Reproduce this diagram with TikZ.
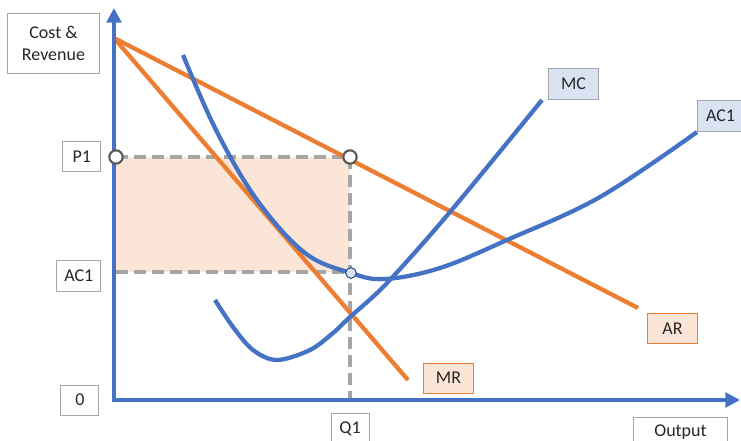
\documentclass[tikz,border=0pt]{standalone}
\usepackage{fontspec}
\setmainfont{Carlito}
\usepackage{tikz}
\usetikzlibrary{arrows.meta, positioning}
\definecolor{cBlue}{RGB}{68,114,196}
\definecolor{cOrange}{RGB}{237,125,49}
\definecolor{cPeach}{RGB}{251,229,214}
\definecolor{cIce}{RGB}{218,227,243}
\definecolor{cDash}{RGB}{165,165,165}
\definecolor{cRing}{RGB}{89,89,89}
\definecolor{cFrame}{RGB}{166,166,166}
\tikzset{
	lbl/.style      ={rectangle, draw=cFrame, line width=0.75pt, fill=white, minimum width=28.5pt, minimum height=22.5pt, inner sep=2pt, align=center, text=black!85},
	lblblue/.style  ={lbl, fill=cIce, minimum width=37.5pt, minimum height=23.25pt},
	lblorange/.style={lbl, draw=cOrange, fill=cPeach, minimum width=37.5pt},
	% curve styles
	curveblue/.style ={line width=3.2pt, cBlue},
	lineorange/.style={line width=3.2pt, cOrange},
	guide/.style     ={line width=3pt, cDash, dash pattern=on 9pt off 4.5pt},
	axis/.style      ={line width=3.2pt, cBlue, line join=miter, {Triangle[length=11pt,width=11pt]}-{Triangle[length=11pt,width=11pt]}},
	ring/.style      ={circle, draw=cRing, line width=1.6pt, fill=white, minimum size=10pt, inner sep=0pt},
	dot/.style       ={circle, draw=cBlue!70!black, line width=0.8pt, fill=cIce, minimum size=8pt, inner sep=0pt},
}

\begin{document}
\begin{tikzpicture}[x=0.75pt, y=-0.75pt, every node/.style={font=\fontsize{13.5}{16}\selectfont}]
	\useasboundingbox (0,0) rectangle (741,441);
	% key points
	\coordinate (orig) at (114,400);
	\coordinate (ytop) at (114,8);
	\coordinate (xend) at (740,400);
	\coordinate (p1y) at (116,157);
	\coordinate (p1q) at (350,157);
	\coordinate (acy) at (116,272);
	\coordinate (acq) at (351,273);
	\coordinate (q1x) at (350,400);
	\coordinate (dstart) at (114,38);
	\coordinate (arend) at (638,308);
	\coordinate (mrend) at (408,380);
	\coordinate (mcend) at (542,100);
	\coordinate (acend) at (697,132);
	% profit area
	\fill[cPeach] (p1y) rectangle (p1q |- acy);
	\draw[guide] (p1y) -- (p1q);
	\draw[guide] (acy) -- (p1q |- acy);
	\draw[guide] (p1q) -- (q1x);
	% demand side
	\draw[lineorange] (dstart) -- (arend);
	\draw[lineorange] (dstart) -- (mrend);
	% cost side
	\draw[curveblue] plot[smooth, tension=0.55] coordinates {(215,300) (233,327) (253,350) (277,360) (310,350) (333,333) (350,317) (387,283) (450,212) (mcend)};
	\draw[curveblue] plot[smooth, tension=0.6] coordinates {(183,55) (216,130) (257,200) (305,253) (acq) (385,279) (440,268) (507,240) (600,197) (acend)};
	\draw[axis] (ytop) |- (xend);
	\node[ring] (p1ring) at (p1y) {};
	\node[ring] (arring) at (p1q) {};
	\node[dot] (acdot) at (acq) {};
	% labels
	\node[lbl, below left=3.75pt and 10.5pt of ytop, minimum width=69pt, minimum height=45pt] (costrev) {Cost \&\\Revenue};
	\node[lbl, left=11pt of p1y] (p1) {P1};
	\node[lbl, left=11pt of acy, yshift=-3pt, minimum width=33pt] (ac1l) {AC1};
	\node[lbl, left=11pt of orig] (zero) {0};
	\node[lbl, below=9.75pt of q1x] (q1) {Q1};
	\node[lbl, below left=12.75pt and 9pt of xend, minimum width=70.5pt] (output) {Output};
	\node[lblblue, above right=0pt and 4.5pt of mcend] (mc) {MC};
	\node[lblblue, above right=0pt and 0pt of acend, minimum width=34.5pt] (ac1r) {AC1};
	\node[lblorange, below right=3.75pt and 6.75pt of arend] (ar) {AR};
	\node[lblorange, right=11.25pt of mrend, yshift=1.5pt] (mr) {MR};
\end{tikzpicture}
\end{document}
